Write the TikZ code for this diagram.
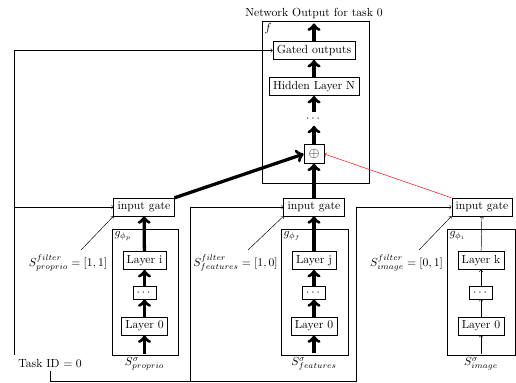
\documentclass[tikz,border=0pt]{standalone}
\usepackage{amsmath}
\usepackage{amssymb}
\usepackage{xcolor}
\usepackage{tikz}

\tikzset{
  layer/.style={draw},
  heavy/.style={->, line width=2.8pt},
  plain/.style={->},
}

\begin{document}
\begin{tikzpicture}[x=0.3mm, y=-0.3mm]
					\useasboundingbox (0,0) rectangle (516,382);
					% shared network f
					\draw (262,21) rectangle (369,183);
					\node[anchor=north west, inner sep=2pt] (flab) at (262,21) {$f$};
					\node (out) at (314,14) {Network Output for task 0};
					\node[layer] (gated) at (314,50.5) {Gated outputs};
					\node[layer] (hidden) at (314,86.5) {Hidden Layer N};
					\node (fdots) at (314,119) {$\cdots$};
					\node[layer, inner sep=4pt, font=\large] (plus) at (314,154) {$\oplus$};
					\draw[heavy] (plus) -- (fdots);
					\draw[heavy] (fdots) -- (hidden);
					\draw[heavy] (hidden) -- (gated);
					\draw[heavy] (gated) -- (out.south);
					% encoders
					\draw (112,229) rectangle (178,355);
					\draw (281,229) rectangle (348,355);
					\draw (447,229) rectangle (515,355);
					\node[anchor=north west, inner sep=2pt] (gplab) at (112,229) {$g_{\phi_p}$};
					\node[anchor=north west, inner sep=2pt] (gflab) at (281,229) {$g_{\phi_f}$};
					\node[anchor=north west, inner sep=2pt] (gilab) at (447,229) {$g_{\phi_i}$};
					\node[layer] (gatep) at (144,207) {input gate};
					\node[layer] (gatef) at (314,207) {input gate};
					\node[layer] (gatei) at (482,207) {input gate};
					\node[layer] (layi) at (144.5,260.5) {Layer i};
					\node[layer] (dotp) at (144.5,292.5) {$\cdots$};
					\node[layer] (lay0p) at (144.5,326) {Layer 0};
					\node (sp) at (144.5,364) {$S^{\sigma}_{proprio}$};
					\node[layer] (layj) at (314,260.5) {Layer j};
					\node[layer] (dotf) at (314,292.5) {$\cdots$};
					\node[layer] (lay0f) at (314,326) {Layer 0};
					\node (sf) at (314,364) {$S^{\sigma}_{features}$};
					\node[layer] (layk) at (481,260.5) {Layer k};
					\node[layer] (doti) at (481,292.5) {$\cdots$};
					\node[layer] (lay0i) at (481,326) {Layer 0};
					\node (si) at (481,364) {$S^{\sigma}_{image}$};
					\draw[heavy] (sp) -- (lay0p);
					\draw[heavy] (lay0p) -- (dotp);
					\draw[heavy] (dotp) -- (layi);
					\draw[heavy] (layi) -- (gatep);
					\draw[heavy] (sf) -- (lay0f);
					\draw[heavy] (lay0f) -- (dotf);
					\draw[heavy] (dotf) -- (layj);
					\draw[heavy] (layj) -- (gatef);
					\draw[plain] (si) -- (lay0i);
					\draw[plain] (lay0i) -- (doti);
					\draw[plain] (doti) -- (layk);
					\draw[plain] (layk) -- (gatei);
					% gates into the sum
					\draw[heavy] (gatep.north east) -- (plus.west);
					\draw[heavy] (gatef) -- (plus);
					\draw[plain, red] (gatei.north west) -- (plus.east);
					% filters
					\node (fp) at (68,263) {$S^{filter}_{proprio} = [1,1]$};
					\node (ff) at (235.5,263) {$S^{filter}_{features} = [1,0]$};
					\node (fi) at (406.5,263) {$S^{filter}_{image} = [0,1]$};
					\coordinate (fpt) at (81,250);
					\coordinate (fft) at (248,250);
					\coordinate (fit) at (419,250);
					\draw[plain] (fpt) -- (gatep.south west);
					\draw[plain] (fft) -- (gatef.south west);
					\draw[plain] (fit) -- (gatei.south west);
					% task id
					\node (task) at (50,363) {Task ID $=0$};
					\coordinate (busf) at (190,381);
					\coordinate (busi) at (356,381);
					\draw[plain] (task.north west) |- (gated.west);
					\draw[plain] (task.north west) |- (gatep.west);
					\draw[plain] (task.south) |- (busf) |- (gatef.west);
					\draw[plain] (busf) -- (busi) |- (gatei.west);
				\end{tikzpicture}
\end{document}
